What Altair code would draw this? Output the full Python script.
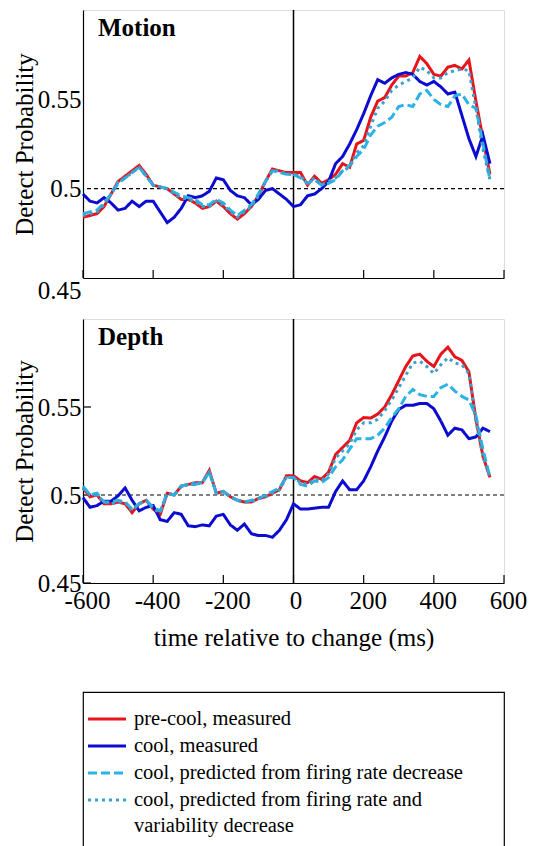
import altair as alt
import pandas as pd

# time bins (ms, relative to the change)
times = list(range(-600, 561, 20))

series = [
    "pre-cool, measured",
    "cool, measured",
    "cool, predicted from firing rate decrease",
    "cool, predicted from firing rate and variability decrease",
]
legend_labels = [
    "pre-cool, measured",
    "cool, measured",
    "cool, predicted from firing rate decrease",
    "cool, predicted from firing rate and\nvariability decrease",
]
colors = ["#e8141c", "#0c0cd0", "#2cb2e4", "#3aa0cc"]
dashes = [[1, 0], [1, 0], [9, 4], [3, 4]]

x_ticks = [-600, -400, -200, 0, 200, 400, 600]
y_ticks = [0.45, 0.5, 0.55]

# ---- Motion panel
motion_precool = [0.484, 0.485, 0.486, 0.490, 0.497, 0.504, 0.507, 0.510, 0.513, 0.508,
                  0.502, 0.501, 0.500, 0.497, 0.494, 0.494, 0.492, 0.489, 0.490, 0.493,
                  0.490, 0.486, 0.483, 0.486, 0.490, 0.496, 0.504, 0.511, 0.510, 0.509,
                  0.509, 0.509, 0.502, 0.507, 0.503, 0.505, 0.508, 0.514, 0.512, 0.525,
                  0.527, 0.540, 0.549, 0.551, 0.558, 0.563, 0.563, 0.565, 0.574, 0.570,
                  0.564, 0.563, 0.568, 0.569, 0.567, 0.572, 0.549, 0.528, 0.508]
motion_cool = [0.497, 0.493, 0.492, 0.495, 0.492, 0.488, 0.489, 0.493, 0.490, 0.493,
               0.493, 0.487, 0.481, 0.484, 0.489, 0.496, 0.495, 0.496, 0.4985, 0.506,
               0.505, 0.499, 0.496, 0.495, 0.491, 0.494, 0.499, 0.500, 0.497, 0.494,
               0.490, 0.491, 0.496, 0.497, 0.500, 0.504, 0.514, 0.518, 0.525, 0.533,
               0.542, 0.552, 0.561, 0.559, 0.562, 0.564, 0.565, 0.564, 0.560, 0.558,
               0.560, 0.557, 0.553, 0.554, 0.541, 0.528, 0.518, 0.530, 0.514]
motion_pred_rate = [0.486, 0.487, 0.488, 0.492, 0.497, 0.503, 0.506, 0.509, 0.512, 0.507,
                    0.502, 0.501, 0.500, 0.498, 0.496, 0.495, 0.494, 0.491, 0.491, 0.494,
                    0.492, 0.488, 0.485, 0.488, 0.491, 0.497, 0.504, 0.510, 0.509, 0.508,
                    0.508, 0.506, 0.503, 0.505, 0.502, 0.503, 0.505, 0.510, 0.513, 0.518,
                    0.522, 0.530, 0.535, 0.537, 0.540, 0.546, 0.547, 0.546, 0.553, 0.555,
                    0.550, 0.547, 0.546, 0.552, 0.553, 0.547, 0.545, 0.525, 0.505]
motion_pred_var = [0.485, 0.486, 0.487, 0.491, 0.497, 0.504, 0.506, 0.509, 0.512, 0.507,
                   0.502, 0.501, 0.500, 0.497, 0.495, 0.494, 0.493, 0.490, 0.490, 0.493,
                   0.491, 0.487, 0.484, 0.487, 0.490, 0.496, 0.504, 0.510, 0.510, 0.508,
                   0.508, 0.507, 0.503, 0.506, 0.502, 0.504, 0.506, 0.510, 0.512, 0.520,
                   0.524, 0.535, 0.545, 0.549, 0.555, 0.558, 0.560, 0.562, 0.568, 0.566,
                   0.562, 0.562, 0.565, 0.566, 0.567, 0.566, 0.545, 0.522, 0.505]

# ---- Depth panel
depth_precool = [0.504, 0.499, 0.500, 0.495, 0.495, 0.496, 0.495, 0.490, 0.495, 0.497,
                 0.492, 0.489, 0.501, 0.500, 0.505, 0.506, 0.507, 0.507, 0.514, 0.501,
                 0.502, 0.499, 0.497, 0.496, 0.496, 0.498, 0.499, 0.501, 0.503, 0.511,
                 0.511, 0.508, 0.507, 0.5105, 0.509, 0.513, 0.523, 0.527, 0.531, 0.541,
                 0.544, 0.5437, 0.546, 0.550, 0.557, 0.565, 0.573, 0.579, 0.580, 0.576,
                 0.573, 0.580, 0.584, 0.5785, 0.5765, 0.570, 0.543, 0.522, 0.510]
depth_cool = [0.4985, 0.493, 0.494, 0.4965, 0.4965, 0.4995, 0.504, 0.497, 0.491, 0.493,
              0.494, 0.486, 0.485, 0.490, 0.489, 0.4825, 0.482, 0.483, 0.4825, 0.488,
              0.489, 0.483, 0.480, 0.4835, 0.478, 0.477, 0.477, 0.476, 0.480, 0.486,
              0.495, 0.492, 0.492, 0.4925, 0.493, 0.493, 0.502, 0.508, 0.503, 0.503,
              0.508, 0.516, 0.525, 0.533, 0.542, 0.5486, 0.551, 0.551, 0.552, 0.552,
              0.549, 0.542, 0.534, 0.538, 0.537, 0.532, 0.533, 0.538, 0.536]
depth_pred_rate = [0.505, 0.500, 0.501, 0.496, 0.496, 0.497, 0.496, 0.492, 0.495, 0.497,
                   0.493, 0.491, 0.501, 0.500, 0.505, 0.506, 0.506, 0.507, 0.513, 0.501,
                   0.502, 0.499, 0.497, 0.496, 0.497, 0.498, 0.500, 0.502, 0.504, 0.510,
                   0.510, 0.506, 0.505, 0.508, 0.507, 0.510, 0.516, 0.520, 0.526, 0.532,
                   0.532, 0.532, 0.534, 0.538, 0.544, 0.549, 0.556, 0.560, 0.557, 0.556,
                   0.556, 0.561, 0.563, 0.559, 0.556, 0.554, 0.545, 0.526, 0.510]
depth_pred_var = [0.504, 0.500, 0.500, 0.496, 0.495, 0.496, 0.496, 0.491, 0.495, 0.497,
                  0.492, 0.490, 0.501, 0.500, 0.505, 0.506, 0.507, 0.507, 0.513, 0.501,
                  0.502, 0.499, 0.497, 0.496, 0.496, 0.498, 0.499, 0.501, 0.503, 0.510,
                  0.510, 0.507, 0.506, 0.509, 0.508, 0.512, 0.521, 0.525, 0.529, 0.537,
                  0.541, 0.541, 0.543, 0.548, 0.554, 0.561, 0.568, 0.575, 0.576, 0.573,
                  0.569, 0.574, 0.578, 0.575, 0.574, 0.569, 0.542, 0.522, 0.510]

FONT = "Liberation Serif"
W = 421


def long_frame(curves):
    rows = []
    for name, vals in zip(series, curves):
        for t, v in zip(times, vals):
            rows.append({"t": t, "p": v, "series": name})
    return pd.DataFrame(rows)


color_enc = alt.Color("series:N", scale=alt.Scale(domain=series, range=colors), legend=None)
dash_enc = alt.StrokeDash("series:N", scale=alt.Scale(domain=series, range=dashes), legend=None)


def panel(curves, label, height, bottom, low_shift):
    df = long_frame(curves)
    x_axis = dict(values=x_ticks, ticks=False, grid=False, domainColor="black",
                  domainWidth=1.2, labels=bottom, labelFlush=False)
    if bottom:
        x_axis.update(title="time relative to change (ms)", labelFont=FONT, labelFontSize=25,
                      labelColor="black", labelPadding=5, labelExpr="toString(datum.value)",
                      labelOffset={"condition": {"test": "datum.value == 0", "value": 2}, "value": 4},
                      titleFont=FONT, titleFontSize=25, titleFontWeight="normal",
                      titleColor="black", titlePadding=12)
    else:
        x_axis.update(title="")
    x_enc = alt.X("t:Q", scale=alt.Scale(domain=[-600, 600], nice=False), axis=alt.Axis(**x_axis))
    y_enc = alt.Y("p:Q", scale=alt.Scale(domain=[0.45, 0.6], nice=False, zero=False),
                  axis=alt.Axis(values=y_ticks, format=".2~f", ticks=False, grid=False,
                                domainColor="black", domainWidth=1.2,
                                labelFont=FONT, labelFontSize=25, labelColor="black",
                                labelPadding=2,
                                labelOffset={"condition": {"test": "datum.value < 0.46",
                                                           "value": low_shift}, "value": 0},
                                title="Detect Probability", titleFont=FONT, titleFontSize=25,
                                titleFontWeight="normal", titleColor="black", titlePadding=0))

    layers = []
    for name in series:
        layers.append(
            alt.Chart(df).transform_filter(alt.datum.series == name)
            .mark_line(strokeWidth=3, strokeCap="butt")
            .encode(x=x_enc, y=y_enc, color=color_enc, strokeDash=dash_enc)
        )
    half = alt.Chart(pd.DataFrame({"p": [0.5]})).mark_rule(
        color="black", strokeWidth=1.2, strokeDash=[4, 3]).encode(y=y_enc)
    change = alt.Chart(pd.DataFrame({"t": [0]})).mark_rule(
        color="black", strokeWidth=1.5).encode(x=x_enc)
    xt = alt.Chart(pd.DataFrame({"t": x_ticks})).mark_rule(
        color="black", strokeWidth=1.2).encode(x=x_enc, y=alt.value(height), y2=alt.value(height - 8))
    parts = [half, change, xt]
    if bottom:
        yt = alt.Chart(pd.DataFrame({"p": y_ticks})).mark_rule(
            color="black", strokeWidth=1.2).encode(y=y_enc, x=alt.value(0), x2=alt.value(8))
        parts.append(yt)
    name_txt = alt.Chart(pd.DataFrame({"label": [label]})).mark_text(
        font=FONT, fontSize=25, fontWeight="bold", align="left", baseline="alphabetic",
        color="black").encode(x=alt.value(15), y=alt.value(26), text="label:N")
    return alt.layer(*parts, *layers, name_txt).properties(width=W, height=height)


motion = panel([motion_precool, motion_cool, motion_pred_rate, motion_pred_var],
               "Motion", 268, False, 12)
depth = panel([depth_precool, depth_cool, depth_pred_rate, depth_pred_var],
              "Depth", 264, True, 0)

# legend drawn as its own boxed panel
leg_df = pd.DataFrame({"row": list(range(len(series))), "label": legend_labels, "series": series})
leg_y = alt.Y("row:Q", scale=alt.Scale(domain=[-1.0, 5.3], reverse=True), axis=None)
leg_lines = alt.Chart(leg_df).mark_rule(strokeWidth=3, strokeCap="butt").encode(
    x=alt.value(5), x2=alt.value(43), y=leg_y, color=color_enc, strokeDash=dash_enc)
leg_text = alt.Chart(leg_df).mark_text(
    font=FONT, fontSize=20.5, align="left", baseline="alphabetic", dy=6,
    lineBreak="\n", lineHeight=26, color="black").encode(
    x=alt.value(51), y=leg_y, text="label:N")
legend = alt.layer(leg_lines, leg_text).properties(
    width=W, height=170, view=alt.ViewBackground(stroke="black", strokeWidth=1.2))

chart = alt.vconcat(
    alt.vconcat(motion, depth, spacing=13),
    legend,
    spacing=40,
).properties(
    padding={"left": 3, "top": 0, "right": 0, "bottom": 0}
).configure_view(stroke=None).configure(background="white")

chart.save("out.html", embed_options={"renderer": "svg", "actions": False})
